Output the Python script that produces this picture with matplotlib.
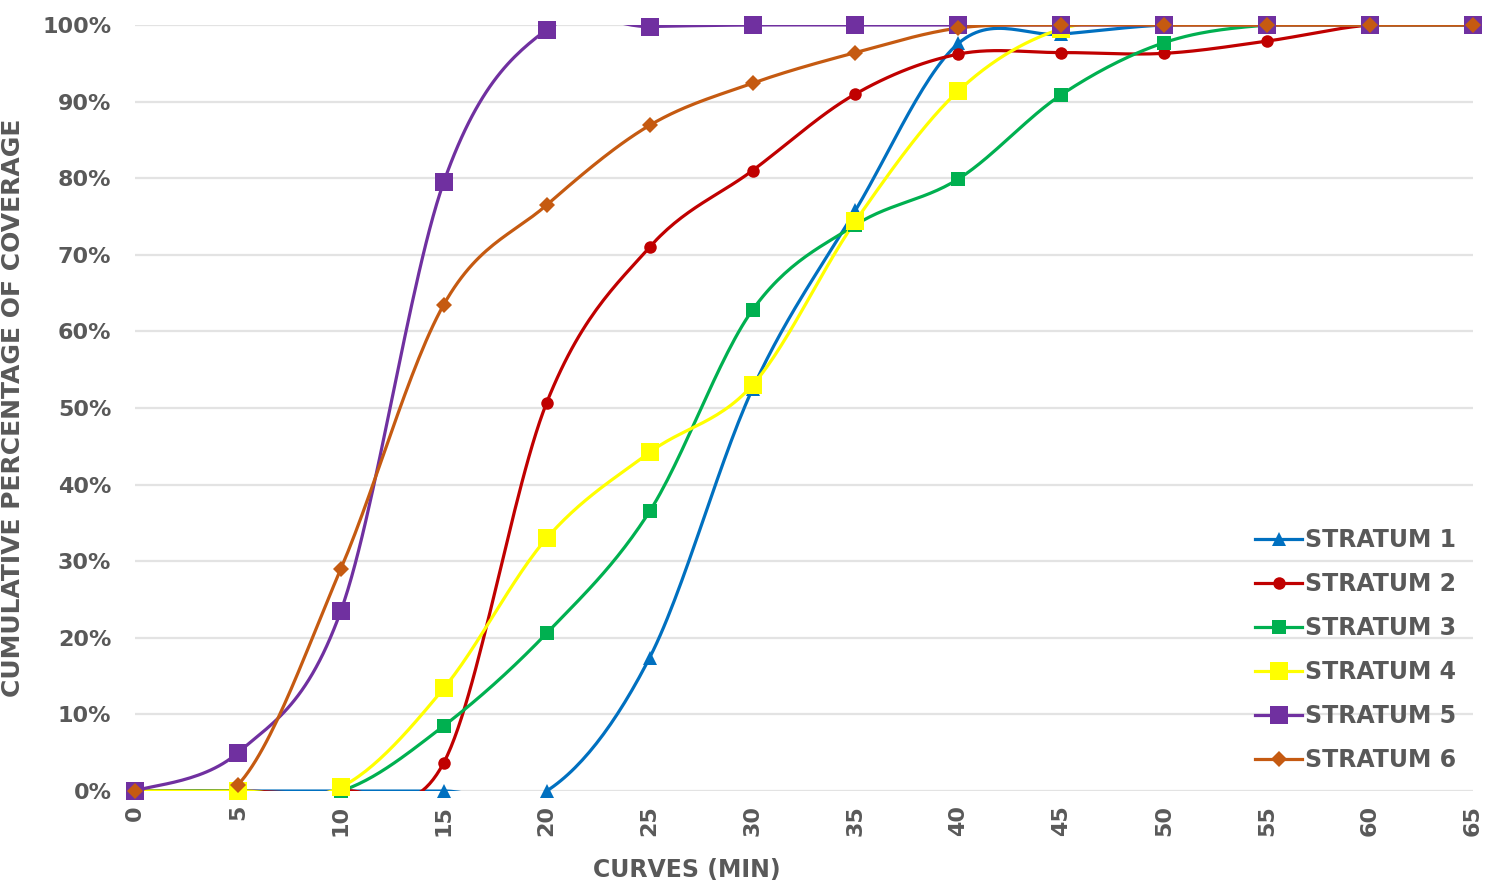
import numpy as np
import matplotlib
matplotlib.use("Agg")
import matplotlib.pyplot as plt
from matplotlib.lines import Line2D

minutes = [0, 5, 10, 15, 20, 25, 30, 35, 40, 45, 50, 55, 60, 65]
stratum_1 = [0, 0, 0, 0, 0, 17.4, 52.5, 75.8, 97.6, 98.8, 100, 100, 100, 100]
stratum_2 = [0, 0, 0, 3.7, 50.7, 71.0, 81.0, 91.0, 96.2, 96.4, 96.3, 97.9, 100, 100]
stratum_3 = [0, 0, 0, 8.5, 20.6, 36.5, 62.8, 73.9, 79.9, 90.9, 97.7, 100, 100, 100]
stratum_4 = [0, 0, 0.5, 13.4, 33.0, 44.2, 53.0, 74.4, 91.4, 99.5, 100, 100, 100, 100]
stratum_5 = [0, 5.0, 23.5, 79.5, 99.4, 99.8, 100, 100, 100, 100, 100, 100, 100, 100]
stratum_6 = [0, 0.8, 29.0, 63.5, 76.5, 86.9, 92.4, 96.4, 99.6, 100, 100, 100, 100, 100]

labels = ["STRATUM 1", "STRATUM 2", "STRATUM 3", "STRATUM 4", "STRATUM 5", "STRATUM 6"]
series = [stratum_1, stratum_2, stratum_3, stratum_4, stratum_5, stratum_6]
colors = ["#0070C0", "#C00000", "#00B050", "#FFFF00", "#7030A0", "#C55A11"]
markers = ["^", "o", "s", "s", "s", "D"]
msizes = [10, 9, 10, 13, 13, 8.5]

y_ticks = list(range(0, 101, 10))
y_ticklabels = [f"{v}%" for v in y_ticks]


def smooth(x, y, n=30):
    pts = np.column_stack([np.asarray(x, float), np.asarray(y, float)])
    out = []
    m = len(pts)
    t = np.linspace(0, 1, n)[:, None]
    for i in range(m - 1):
        p0 = pts[i - 1] if i > 0 else pts[i]
        p1 = pts[i]
        p2 = pts[i + 1]
        p3 = pts[i + 2] if i + 2 < m else pts[i + 1]
        c1 = p1 + (p2 - p0) / 6.0
        c2 = p2 - (p3 - p1) / 6.0
        seg = ((1 - t) ** 3) * p1 + 3 * ((1 - t) ** 2) * t * c1 + 3 * (1 - t) * t ** 2 * c2 + t ** 3 * p2
        out.append(seg if i == 0 else seg[1:])
    out = np.vstack(out)
    return out[:, 0], out[:, 1]


text_color = "#595959"
plt.rcParams["font.family"] = ["DejaVu Sans"]
plt.rcParams["font.weight"] = "bold"

fig = plt.figure(figsize=(14.95, 8.88), dpi=100)
ax = fig.add_axes([135 / 1495, 1 - 791 / 888, (1473 - 135) / 1495, (791 - 25) / 888])

handles = []
for vals, lab, col, mk, ms in zip(series, labels, colors, markers, msizes):
    sx, sy = smooth(minutes, vals)
    ax.plot(sx, sy, color=col, lw=2.3, solid_capstyle="round", clip_on=True, zorder=3)
    ax.plot(minutes, vals, linestyle="none", marker=mk, color=col, markersize=ms,
            markeredgewidth=0, clip_on=False, zorder=4)
    handles.append(Line2D([], [], color=col, lw=2.3, marker=mk, markersize=ms, markeredgewidth=0))

ax.set_xlim(0, 65)
ax.set_ylim(0, 100)
ax.set_xticks(minutes)
ax.set_xticklabels([str(v) for v in minutes], rotation=90, fontsize=16, color=text_color, fontweight="bold")
ax.set_yticks(y_ticks)
ax.set_yticklabels(y_ticklabels, fontsize=16, color=text_color, fontweight="bold")
ax.tick_params(axis="both", length=0)
ax.tick_params(axis="x", pad=10)
ax.tick_params(axis="y", pad=17)
ax.grid(axis="y", color="#E3E3E3", lw=1.6, zorder=0)
ax.set_axisbelow(True)
for sp in ax.spines.values():
    sp.set_visible(False)

ax.set_xlabel("CURVES (MIN)", fontsize=17, color=text_color, fontweight="bold")
ax.xaxis.set_label_coords((687 - 135) / 1338, -0.087)
ax.set_ylabel("CUMULATIVE PERCENTAGE OF COVERAGE", fontsize=18, color=text_color, fontweight="bold")
ax.yaxis.set_label_coords(-(135 - 25) / 1338, 0.5)

leg = fig.legend(handles, labels, loc="upper left", bbox_to_anchor=(1255 / 1495, 1 - 528 / 888),
                 frameon=False, fontsize=17, handlelength=2.0, handletextpad=0.1,
                 labelspacing=0.85, borderpad=0, borderaxespad=0)
for t in leg.get_texts():
    t.set_color(text_color)
    t.set_fontweight("bold")

fig.savefig("out.png", dpi=100)
